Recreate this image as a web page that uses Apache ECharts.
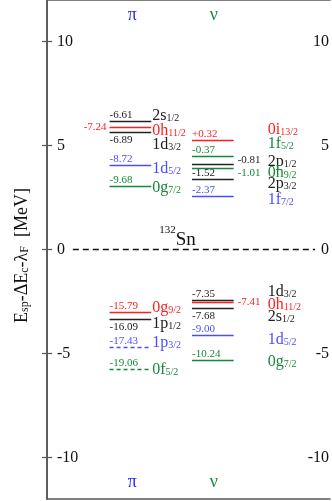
<!DOCTYPE html>
<html><head><meta charset="utf-8">
<script src="https://cdn.jsdelivr.net/npm/echarts@6/dist/echarts.min.js"></script>
<style>html,body{margin:0;padding:0;background:#fff}#c{width:332px;height:501px}</style>
</head><body><div id="c"></div><script>
// ---------- data ----------
const yTicks = [-10, -5, 0, 5, 10];
const protonOrbitals = ['2s1/2', '0h11/2', '1d3/2', '1d5/2', '0g7/2', '0g9/2', '1p1/2', '1p3/2', '0f5/2'];
const protonEnergies = ['-6.61', '-7.24', '-6.89', '-8.72', '-9.68', '-15.79', '-16.09', '-17.43', '-19.06'];
const protonLevelPos = [6.16, 5.89, 5.63, 4.06, 3.05, -3.02, -3.33, -4.70, -5.73];
const neutronOrbitals = ['0i13/2', '1f5/2', '2p1/2', '0h9/2', '2p3/2', '1f7/2', '1d3/2', '0h11/2', '2s1/2', '1d5/2', '0g7/2'];
const neutronEnergies = ['+0.32', '-0.37', '-0.81', '-1.01', '-1.52', '-2.37', '-7.35', '-7.41', '-7.68', '-9.00', '-10.24'];
const neutronLevelPos = [5.26, 4.52, 4.09, 3.92, 3.39, 2.57, -2.45, -2.52, -2.80, -4.11, -5.31];
const columnHeaders = ['π', 'ν'];
const nucleusMass = '132';
const nucleusSymbol = 'Sn';

// ---------- layout / style ----------
const FONT = '"Liberation Serif","Times New Roman",serif';
const COL = { k: '#222222', r: '#ff1f1f', g: '#16883a', b: '#4d4dff' };
const protonSpan = [63, 105], neutronSpan = [146, 188];
const headerX = [86, 168], headerYTop = 11.27, headerYBot = -11.18;
const protonStyle = [
  { c: 'k', v: 'above', dy: -7 }, { c: 'r', v: 'left', dy: 2 }, { c: 'k', v: 'below', dy: 11 },
  { c: 'b', v: 'above', dy: 2 }, { c: 'g', v: 'above', dy: 0 }, { c: 'r', v: 'above', dy: -6 },
  { c: 'k', v: 'below', dy: 3 }, { c: 'b', v: 'above', dy: -6, dash: true }, { c: 'g', v: 'above', dy: -1, dash: true }
];
const neutronStyle = [
  { c: 'r', v: 'above', dy: -12 }, { c: 'g', v: 'above', dy: -14 }, { c: 'k', v: 'right', dy: -4, vdy: -4 },
  { c: 'g', v: 'right', dy: 3, vdy: 5 }, { c: 'k', v: 'above', dy: 3 }, { c: 'b', v: 'above', dy: 2 },
  { c: 'k', v: 'above', dy: -10 }, { c: 'r', v: 'right', dy: 1, vdy: 0 }, { c: 'k', v: 'below', dy: 7 },
  { c: 'b', v: 'above', dy: 3 }, { c: 'g', v: 'above', dy: 0 }
];
const columns = [
  { span: protonSpan, orb: protonOrbitals, en: protonEnergies, pos: protonLevelPos, st: protonStyle, lx: 1 },
  { span: neutronSpan, orb: neutronOrbitals, en: neutronEnergies, pos: neutronLevelPos, st: neutronStyle, lx: 34 }
];
const levelData = [];
columns.forEach((col, ci) => col.pos.forEach((p, i) => levelData.push([col.span[0], col.span[1], p, ci, i])));

function orbText(name) {
  const m = name.match(/^(\d[a-z])(.+)$/);
  return '{m|' + m[1] + '}{s|' + m[2] + '}';
}

function renderLevel(params, api) {
  const ci = api.value(3), i = api.value(4);
  const col = columns[ci], st = col.st[i], color = COL[st.c];
  const p1 = api.coord([api.value(0), api.value(2)]);
  const p2 = api.coord([api.value(1), api.value(2)]);
  const y = Math.round(p1[1]) + 0.5;
  const children = [{
    type: 'line', shape: { x1: p1[0], y1: y, x2: p2[0], y2: y },
    style: { stroke: color, lineWidth: 1.7, lineDash: st.dash ? [4, 3] : null }
  }];
  let vx = p1[0], vy = y - 1, va = 'left', vv = 'bottom';
  if (st.v === 'below') { vy = y + 2; vv = 'top'; }
  if (st.v === 'left') { vx = p1[0] - 3; va = 'right'; vv = 'middle'; vy = y; }
  if (st.v === 'right') { vx = p2[0] + 4; vv = 'middle'; vy = y + (st.vdy || 0); }
  children.push({ type: 'text', style: { text: col.en[i], x: vx, y: vy, align: va, verticalAlign: vv, fill: color, font: '11px ' + FONT } });
  children.push({
    type: 'text',
    style: {
      text: orbText(col.orb[i]), x: p2[0] + col.lx, y: y + st.dy, align: 'left', verticalAlign: 'middle',
      rich: {
        m: { fontSize: 16, fontFamily: FONT, fill: color, lineHeight: 18, verticalAlign: 'bottom' },
        s: { fontSize: 10, fontFamily: FONT, fill: color, lineHeight: 6, verticalAlign: 'bottom' }
      }
    }
  });
  return { type: 'group', children };
}

const headerData = [];
columnHeaders.forEach((h, i) => { headerData.push([headerX[i], headerYTop, i]); headerData.push([headerX[i], headerYBot, i]); });

const FRAME = { color: '#555', width: 1.5 };
const yAxisCommon = {
  type: 'value', min: -12, max: 12,
  axisLine: { show: true, lineStyle: FRAME },
  axisTick: { show: true, inside: true, length: 5, customValues: yTicks, lineStyle: { color: '#555', width: 1.2 } },
  axisLabel: { inside: true, margin: 10, customValues: yTicks, fontFamily: FONT, fontSize: 16, color: '#111' },
  splitLine: { show: false }
};
const xAxisCommon = {
  type: 'value', min: 0, max: 285,
  axisLine: { show: true, onZero: false, lineStyle: FRAME },
  axisTick: { show: false }, axisLabel: { show: false }, splitLine: { show: false }
};

const chart = echarts.init(document.getElementById('c'), null, { renderer: 'canvas' });
chart.setOption({
  animation: false,
  grid: { left: 47, top: 0, right: 0, bottom: 2 },
  xAxis: [Object.assign({ position: 'bottom' }, xAxisCommon), Object.assign({ position: 'top' }, xAxisCommon)],
  yAxis: [
    Object.assign({}, yAxisCommon, {
      position: 'left',
      name: '{t|E}{u|sp}{t|-ΔE}{u|c}{t|-λ}{u|F}{t|  [MeV]}', nameLocation: 'middle', nameGap: 16, nameRotate: 90,
      nameTextStyle: {
        padding: [0, 12, 0, 0],
        rich: {
          t: { fontFamily: FONT, fontSize: 18, color: '#111', lineHeight: 20, verticalAlign: 'bottom' },
          u: { fontFamily: FONT, fontSize: 12, color: '#111', lineHeight: 7, verticalAlign: 'bottom' }
        }
      }
    }),
    Object.assign({}, yAxisCommon, { position: 'right', offset: 8, axisLabel: Object.assign({}, yAxisCommon.axisLabel, { margin: 9 }) })
  ],
  series: [
    {
      type: 'line', data: [[26, 0], [270, 0]], symbol: 'none', silent: true,
      lineStyle: { color: '#111', width: 1.3, type: [6, 4] }
    },
    {
      type: 'custom', data: levelData, renderItem: renderLevel, clip: false,
      encode: { x: [0, 1], y: 2 }
    },
    {
      type: 'custom', data: headerData, clip: false, encode: { x: 0, y: 1 },
      renderItem: (params, api) => {
        const p = api.coord([api.value(0), api.value(1)]);
        const i = api.value(2);
        return { type: 'text', style: { text: columnHeaders[i], x: p[0], y: p[1], align: 'center', verticalAlign: 'middle', fill: i === 0 ? '#2a2aee' : '#16883a', font: '18px ' + FONT } };
      }
    },
    {
      type: 'custom', data: [[131.5, 0.6]], clip: false, encode: { x: 0, y: 1 },
      renderItem: (params, api) => {
        const p = api.coord([api.value(0), api.value(1)]);
        return {
          type: 'text', style: {
            text: '{a|' + nucleusMass + '}{b|' + nucleusSymbol + '}', x: p[0], y: p[1], align: 'center', verticalAlign: 'middle',
            rich: {
              a: { fontSize: 11, fontFamily: FONT, fill: '#111', lineHeight: 24, verticalAlign: 'top' },
              b: { fontSize: 19, fontFamily: FONT, fill: '#111', lineHeight: 20, verticalAlign: 'bottom' }
            }
          }
        };
      }
    }
  ]
});
</script></body></html>
